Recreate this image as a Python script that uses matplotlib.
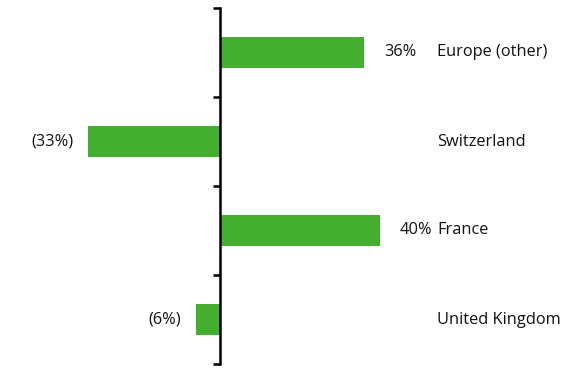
import matplotlib
matplotlib.use("Agg")
import matplotlib.pyplot as plt
from matplotlib.transforms import blended_transform_factory, offset_copy

categories = ["Europe (other)", "Switzerland", "France", "United Kingdom"]
values = [36, -33, 40, -6]
value_labels = ["36%", "(33%)", "40%", "(6%)"]

plt.rcParams['font.family'] = ['Open Sans', 'DejaVu Sans']

W, H = 572, 368
fig = plt.figure(figsize=(W / 100, H / 100), dpi=100)
ax = fig.add_axes([0, 0, 1, 1])
ax.set_facecolor('none')

color = '#43AE2F'
ypos = list(range(len(categories)))
ax.barh(ypos, values, height=0.35, color=color)

# scale: x=0 at 220 px, 4 px per percent
ax.set_xlim(-220 / 4, (W - 220) / 4)
band = 89.0
ax.set_ylim(3.5 + 4 / band, -0.5 - 8 / band)

for s in ['top', 'right', 'bottom']:
    ax.spines[s].set_visible(False)
ax.spines['left'].set_position(('data', 0))
ax.spines['left'].set_bounds(-0.5, 3.5)
ax.spines['left'].set_linewidth(1.8)
ax.set_yticks([-0.5, 0.5, 1.5, 2.5, 3.5])
ax.set_yticklabels([])
ax.tick_params(axis='y', direction='out', length=5, width=1.8)
ax.set_xticks([])

fs = 11.8
for y, v, lab in zip(ypos, values, value_labels):
    if v >= 0:
        t = offset_copy(ax.transData, fig=fig, x=20, y=0, units='dots')
        ax.text(v, y, lab, transform=t, ha='left', va='center', fontsize=fs, color='#111111')
    else:
        t = offset_copy(ax.transData, fig=fig, x=-15, y=0, units='dots')
        ax.text(v, y, lab, transform=t, ha='right', va='center', fontsize=fs, color='#111111')

bt = blended_transform_factory(ax.transAxes, ax.transData)
for y, c in zip(ypos, categories):
    ax.text(437 / W, y, c, transform=bt, ha='left', va='center', fontsize=fs, color='#111111')

fig.savefig('out.png', dpi=100)
